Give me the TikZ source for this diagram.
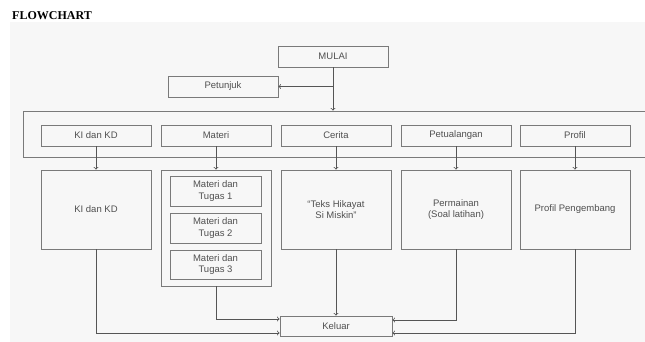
\documentclass[tikz,border=0pt]{standalone}
\usepackage{fontspec}
\setmainfont{Liberation Sans}
\newfontfamily\titlefont{Liberation Serif}
\definecolor{bg}{HTML}{F7F7F7}
\definecolor{edge}{HTML}{7A7A7A}
\definecolor{wire}{HTML}{555555}
\definecolor{ink}{HTML}{505050}

\begin{document}
\begin{tikzpicture}[
  x=1pt, y=-1pt,
  box/.style={
    draw=edge, line width=0.9pt, rectangle,
    minimum width=110pt, minimum height=21pt,
    font=\fontsize{9.5}{11.5}\selectfont, text=ink, align=center, inner sep=2pt
  },
  bigbox/.style={box, minimum height=79pt},
  sub/.style={box, minimum width=91pt, minimum height=30pt},
  grp/.style={
    draw=edge, line width=0.9pt, rectangle,
    minimum width=627pt, minimum height=46pt
  },
  arr/.style={->, draw=wire, line width=0.8pt},
]
\useasboundingbox (0,0) rectangle (645,342);
\fill[bg] (10,22) rectangle (645,342);

\node[font=\titlefont\bfseries\fontsize{12}{14}\selectfont, anchor=west, inner sep=0pt] (title) at (12,16) {FLOWCHART};

\node[box] (mulai)    at (333,56.5) {MULAI};
\node[box] (petunjuk) at (223,86.5) {Petunjuk};

\node[grp] (menu) at (336.5,134) {};

\node[box] (kd)          at (96,135.5)  {KI dan KD};
\node[box] (materi)      at (216,135.5) {Materi};
\node[box] (cerita)      at (336,135.5) {Cerita};
\node[box] (petualangan) at (456,135.5) {Petualangan};
\node[box] (profil)      at (575,135.5) {Profil};

\node[bigbox] (kdbox)      at (96,209.5)  {KI dan KD};
\node[box, minimum height=116pt] (matbox) at (216,228) {};
\node[bigbox] (teks)       at (336,209.5) {``Teks Hikayat\\Si Miskin''};
\node[bigbox] (game)       at (456,209.5) {Permainan\\(Soal latihan)};
\node[bigbox] (pengembang) at (575,209.5) {Profil Pengembang};

\node[sub] (tugas1) at (215.5,191)   {Materi dan\\Tugas 1};
\node[sub] (tugas2) at (215.5,228)   {Materi dan\\Tugas 2};
\node[sub, minimum height=29pt] (tugas3) at (215.5,264.5) {Materi dan\\Tugas 3};

\node[box, minimum width=112pt, minimum height=20pt] (keluar) at (336,326) {Keluar};

\draw[arr] (mulai) -- (mulai |- menu.north);
\draw[arr] (mulai |- petunjuk) -- (petunjuk);

\draw[arr] (kd)          -- (kdbox);
\draw[arr] (materi)      -- (matbox);
\draw[arr] (cerita)      -- (teks);
\draw[arr] (petualangan) -- (game);
\draw[arr] (profil)      -- (pengembang);

\draw[arr] (kdbox.south)      |- ([yshift=-7pt]keluar.west);
\draw[arr] (matbox.south)     |- ([yshift=7pt]keluar.west);
\draw[arr] (teks)             -- (keluar);
\draw[arr] (game.south)       |- ([yshift=6pt]keluar.east);
\draw[arr] (pengembang.south) |- ([yshift=-7pt]keluar.east);

\end{tikzpicture}
\end{document}
